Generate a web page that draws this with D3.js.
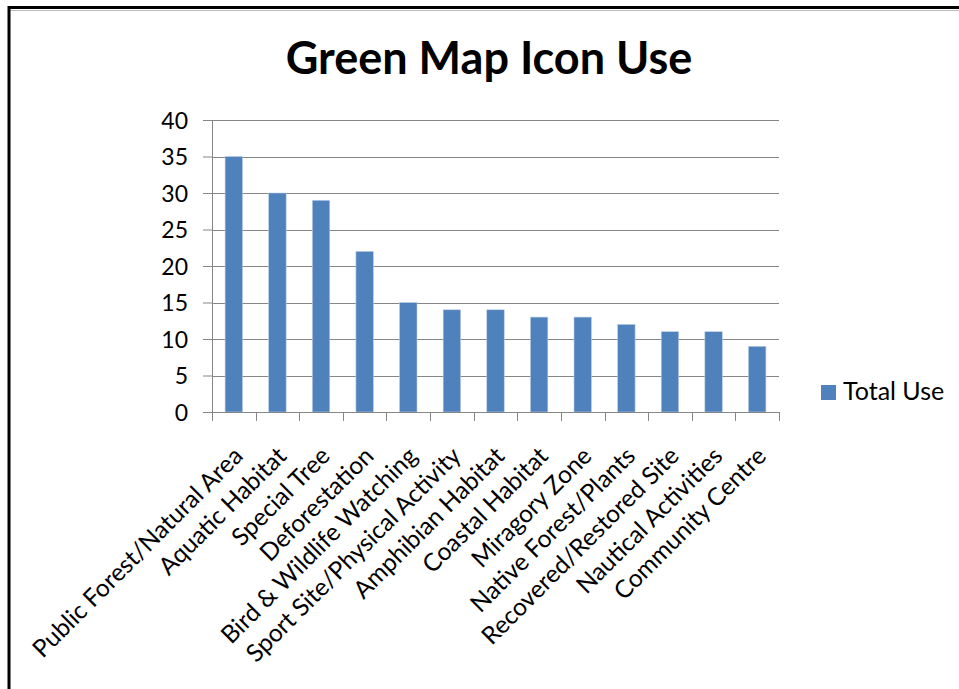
<!DOCTYPE html>
<html>
<head>
<meta charset="utf-8">
<script src="https://cdn.jsdelivr.net/npm/d3@7"></script>
<style>
  html, body { margin: 0; padding: 0; background: #fff; }
  svg { display: block; }
  text { font-family: Lato, "Open Sans", sans-serif; fill: #000; }
</style>
</head>
<body>
<svg id="chart"></svg>
<script>
const CATEGORIES = [
  "Public Forest/Natural Area", "Aquatic Habitat", "Special Tree", "Deforestation",
  "Bird & Wildlife Watching", "Sport Site/Physical Activity", "Amphibian Habitat",
  "Coastal Habitat", "Miragory Zone", "Native Forest/Plants", "Recovered/Restored Site",
  "Nautical Activities", "Community Centre"
];
const TOTAL_USE = [35, 30, 29, 22, 15, 14, 14, 13, 13, 12, 11, 11, 9];
const Y_TICKS   = [0, 5, 10, 15, 20, 25, 30, 35, 40];
const TITLE     = "Green Map Icon Use";
const SERIES    = "Total Use";

const SVG_W = 959;
const SVG_H = 689;
const PLOT  = { left: 212, right: 779, top: 120, bottom: 412 };
const BAR_COLOR  = "#4f81bd";
const AXIS_COLOR = "#868686";

const svg = d3.select("#chart")
  .attr("width", SVG_W)
  .attr("height", SVG_H);

// frame (only top & left edges are in view)
svg.append("line")
  .attr("x1", 8).attr("x2", SVG_W + 5)
  .attr("y1", 10.5).attr("y2", 10.5)
  .attr("stroke", "#bbb").attr("stroke-width", 1);
svg.append("rect")
  .attr("x", 9).attr("y", 7.5)
  .attr("width", SVG_W + 20).attr("height", SVG_H + 20)
  .attr("fill", "none")
  .attr("stroke", "#000").attr("stroke-width", 3);

const x = d3.scaleBand()
  .domain(CATEGORIES)
  .range([PLOT.left, PLOT.right])
  .paddingInner(0.6)
  .paddingOuter(0.3);

const y = d3.scaleLinear()
  .domain([0, 40])
  .range([PLOT.bottom, PLOT.top]);

// title
svg.append("text")
  .attr("x", 489)
  .attr("y", 74)
  .attr("text-anchor", "middle")
  .attr("font-size", 45)
  .attr("font-weight", 700)
  .text(TITLE);

// gridlines + y axis
const yAxis = d3.axisLeft(y)
  .tickValues(Y_TICKS)
  .tickSize(9)
  .tickPadding(15)
  .tickFormat(d3.format("d"));

const gy = svg.append("g")
  .attr("transform", `translate(${PLOT.left},0)`)
  .call(yAxis);
gy.selectAll(".tick line").attr("stroke", AXIS_COLOR);
gy.select(".domain").attr("stroke", AXIS_COLOR).attr("d", `M0.5,${PLOT.top}V${PLOT.bottom}`);
gy.selectAll(".tick text")
  .attr("font-size", 23)
  .attr("font-family", "Lato, sans-serif")
  .attr("fill", "#000")
  .attr("dy", "0.36em");

svg.append("g")
  .selectAll("line")
  .data(Y_TICKS.filter((d) => d > 0))
  .enter().append("line")
  .attr("x1", PLOT.left)
  .attr("x2", PLOT.right)
  .attr("y1", (d) => Math.round(y(d)) + 0.5)
  .attr("y2", (d) => Math.round(y(d)) + 0.5)
  .attr("stroke", AXIS_COLOR);

// bars
svg.append("g")
  .selectAll("rect")
  .data(CATEGORIES)
  .enter().append("rect")
  .attr("x", (d) => x(d))
  .attr("width", x.bandwidth())
  .attr("y", (d, i) => y(TOTAL_USE[i]))
  .attr("height", (d, i) => y(0) - y(TOTAL_USE[i]))
  .attr("fill", BAR_COLOR)
  .attr("stroke", "#b9cde5")
  .attr("stroke-width", 0.6);

// x axis: ticks at band boundaries
const step = x.step();
const bounds = d3.range(CATEGORIES.length + 1).map((i) => PLOT.left + i * step);
const gx = svg.append("g");
gx.append("line")
  .attr("x1", PLOT.left).attr("x2", PLOT.right)
  .attr("y1", PLOT.bottom + 0.5).attr("y2", PLOT.bottom + 0.5)
  .attr("stroke", AXIS_COLOR);
gx.selectAll("line.tick")
  .data(bounds)
  .enter().append("line")
  .attr("class", "tick")
  .attr("x1", (d) => Math.round(d) + 0.5)
  .attr("x2", (d) => Math.round(d) + 0.5)
  .attr("y1", PLOT.bottom)
  .attr("y2", PLOT.bottom + 9)
  .attr("stroke", AXIS_COLOR);

gx.selectAll("text")
  .data(CATEGORIES)
  .enter().append("text")
  .attr("transform", (d) => `translate(${x(d) + x.bandwidth() / 2 - 2},${PLOT.bottom + 33}) rotate(-45)`)
  .attr("text-anchor", "end")
  .attr("dy", "0.72em")
  .attr("font-size", 24.5)
  .text((d) => d);

// legend
const legend = svg.append("g").attr("transform", "translate(821,385)");
legend.append("rect")
  .attr("width", 15).attr("height", 15)
  .attr("fill", BAR_COLOR);
legend.append("text")
  .attr("x", 22)
  .attr("y", 15)
  .attr("font-size", 25)
  .text(SERIES);
</script>
</body>
</html>
